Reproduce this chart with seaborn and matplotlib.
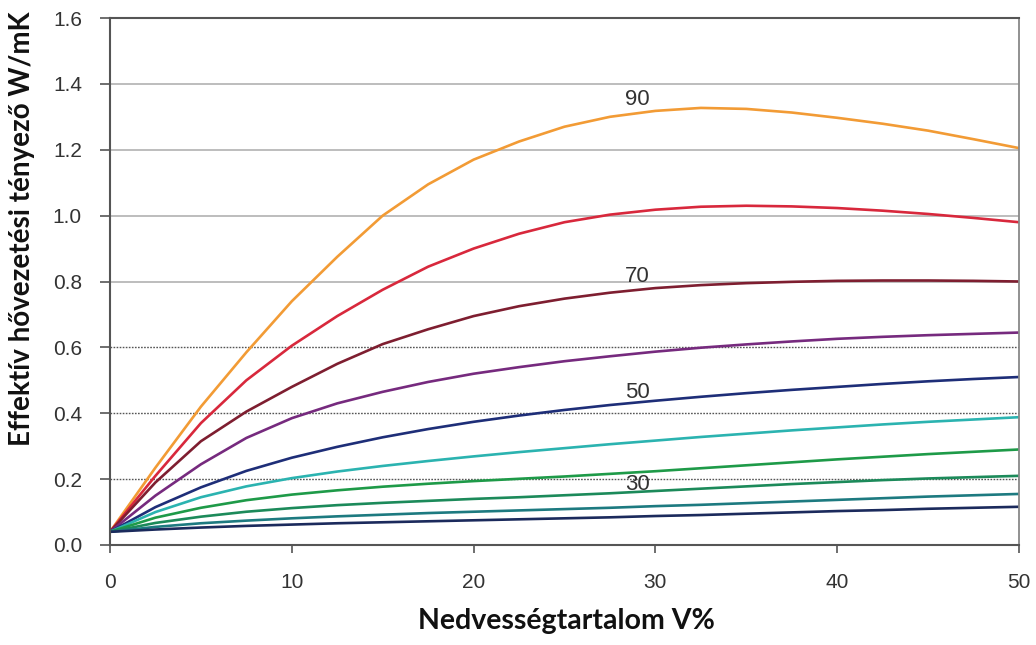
import numpy as np
import pandas as pd
import matplotlib
matplotlib.use("Agg")
import matplotlib.pyplot as plt
import seaborn as sns

# ---- data ----
moisture = [0, 2.5, 5, 7.5, 10, 12.5, 15, 17.5, 20, 22.5, 25, 27.5, 30, 32.5, 35, 37.5, 40, 42.5, 45, 47.5, 50]

k_90 = [0.04, 0.235, 0.42, 0.585, 0.74, 0.875, 1.00, 1.095, 1.17, 1.225, 1.27, 1.30, 1.318, 1.327, 1.324, 1.313, 1.297, 1.279, 1.258, 1.232, 1.205]
k_80 = [0.04, 0.21, 0.37, 0.50, 0.605, 0.695, 0.775, 0.845, 0.90, 0.945, 0.98, 1.003, 1.018, 1.027, 1.03, 1.028, 1.023, 1.015, 1.005, 0.993, 0.98]
k_70 = [0.04, 0.19, 0.315, 0.405, 0.48, 0.55, 0.61, 0.655, 0.695, 0.725, 0.748, 0.766, 0.78, 0.789, 0.795, 0.799, 0.802, 0.803, 0.803, 0.802, 0.80]
k_60 = [0.04, 0.15, 0.245, 0.325, 0.385, 0.43, 0.465, 0.495, 0.52, 0.54, 0.558, 0.573, 0.587, 0.599, 0.609, 0.618, 0.626, 0.632, 0.637, 0.641, 0.645]
k_50 = [0.04, 0.115, 0.175, 0.225, 0.265, 0.298, 0.327, 0.352, 0.374, 0.393, 0.41, 0.425, 0.438, 0.45, 0.461, 0.471, 0.48, 0.489, 0.497, 0.504, 0.51]
k_40 = [0.04, 0.10, 0.145, 0.178, 0.203, 0.223, 0.24, 0.255, 0.269, 0.282, 0.294, 0.306, 0.317, 0.328, 0.338, 0.348, 0.357, 0.366, 0.374, 0.381, 0.388]
k_30 = [0.04, 0.083, 0.113, 0.136, 0.153, 0.166, 0.177, 0.186, 0.194, 0.201, 0.208, 0.216, 0.224, 0.233, 0.242, 0.251, 0.26, 0.268, 0.276, 0.283, 0.29]
k_20 = [0.04, 0.067, 0.086, 0.101, 0.112, 0.121, 0.128, 0.134, 0.14, 0.145, 0.151, 0.157, 0.164, 0.171, 0.178, 0.185, 0.191, 0.197, 0.202, 0.206, 0.21]
k_10 = [0.04, 0.055, 0.066, 0.074, 0.081, 0.087, 0.092, 0.097, 0.101, 0.105, 0.109, 0.113, 0.118, 0.122, 0.127, 0.132, 0.137, 0.142, 0.147, 0.151, 0.155]
k_0 = [0.04, 0.047, 0.053, 0.058, 0.062, 0.066, 0.069, 0.072, 0.075, 0.078, 0.081, 0.084, 0.088, 0.091, 0.095, 0.099, 0.103, 0.106, 0.11, 0.113, 0.116]

series_names = ["90", "80", "70", "60", "50", "40", "30", "20", "10", "0"]
series_values = [k_90, k_80, k_70, k_60, k_50, k_40, k_30, k_20, k_10, k_0]
series_colors = ["#F29B35", "#D8283C", "#7E1E30", "#762A7E", "#1E2E78",
                 "#2BB3B0", "#1E9A48", "#1C8A5A", "#1D7A80", "#1B2A5C"]

label_names = ["90", "70", "50", "30"]
label_x = [29.0, 29.0, 29.0, 29.0]
label_y = [1.336, 0.80, 0.447, 0.167]

x_ticks = [0, 10, 20, 30, 40, 50]
y_ticks = [0.0, 0.2, 0.4, 0.6, 0.8, 1.0, 1.2, 1.4, 1.6]

rows = []
for name, vals in zip(series_names, series_values):
    for x, v in zip(moisture, vals):
        rows.append({"x": x, "k": v, "T": name})
df = pd.DataFrame(rows)

sns.set_theme(style="white")
plt.rcParams["font.family"] = ["Liberation Sans", "DejaVu Sans"]

W, H = 1036, 645
fig = plt.figure(figsize=(W / 100, H / 100), dpi=100)
ax = fig.add_axes([110 / W, 1 - 545 / H, (1019 - 110) / W, (545 - 18) / H])

# gridlines
for yv in [0.8, 1.0, 1.2, 1.4]:
    ax.axhline(yv, color="#b8b8b8", lw=1.3, zorder=0)
for yv in [0.2, 0.4, 0.6]:
    ax.axhline(yv, color="#555555", lw=1.0, ls=(0, (1.2, 1.0)), zorder=0)

sns.lineplot(data=df, x="x", y="k", hue="T", hue_order=series_names,
             palette=dict(zip(series_names, series_colors)), ax=ax,
             legend=False, lw=1.9)

for t, xx, yy in zip(label_names, label_x, label_y):
    ax.text(xx, yy, t, fontsize=16, color="#333333", ha="center", va="baseline")

ax.set_xlim(0, 50)
ax.set_ylim(0, 1.6)
ax.set_xticks(x_ticks)
ax.set_yticks(y_ticks)
ax.set_yticklabels([f"{v:.1f}" for v in y_ticks])
ax.tick_params(axis="both", labelsize=15, labelcolor="#333333", color="#555555",
               direction="out", width=1.2, bottom=True, left=True)
ax.tick_params(axis="x", length=5.8, pad=14)
ax.tick_params(axis="y", length=7.2, pad=13)
for side in ["left", "bottom", "top"]:
    ax.spines[side].set_color("#555555")
    ax.spines[side].set_linewidth(1.5)
ax.spines["right"].set_color("#888888")
ax.spines["right"].set_linewidth(1.3)
ax.set_xlabel("")
ax.set_ylabel("")

fig.text(566 / W, 1 - 621 / H, "Nedvességtartalom V%", fontsize=20.5,
         fontweight="bold", family=["Lato", "DejaVu Sans"], color="#111111",
         ha="center", va="center")
fig.text(22 / W, 1 - 229 / H, "Effektív hővezetési tényező W/mK", fontsize=20,
         fontweight="bold", family=["Lato", "DejaVu Sans"], color="#111111",
         ha="center", va="center", rotation=90)

fig.savefig("out.png", dpi=100, facecolor="white")
